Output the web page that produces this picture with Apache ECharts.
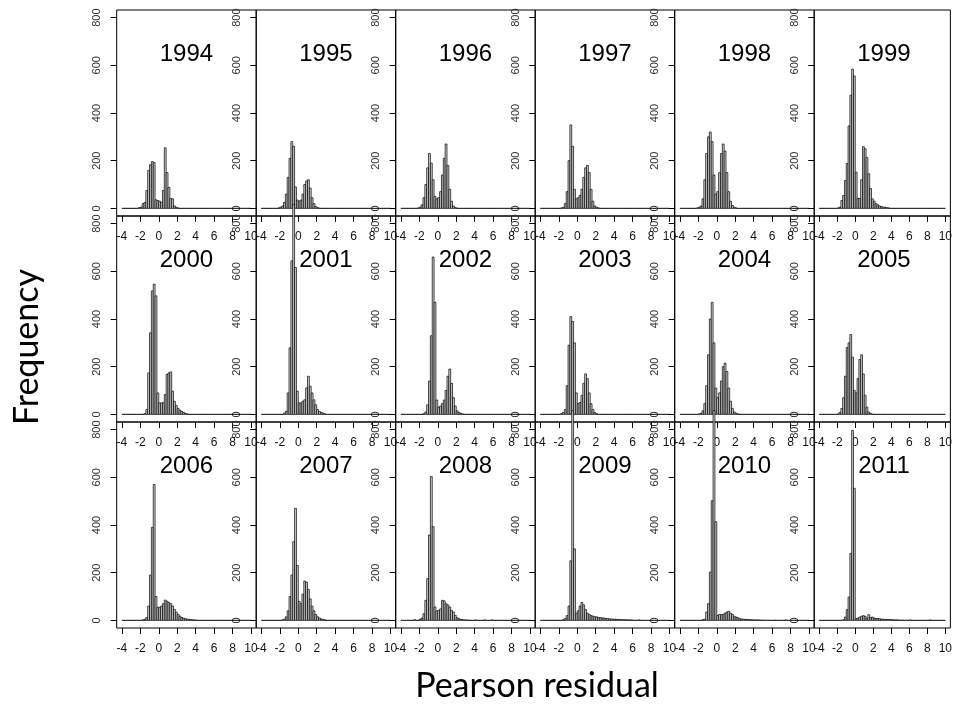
<!DOCTYPE html>
<html>
<head>
<meta charset="utf-8">
<script src="https://cdn.jsdelivr.net/npm/echarts@6/dist/echarts.min.js"></script>
<style>
  html, body { margin: 0; padding: 0; background: #fff; }
  #chart { width: 955px; height: 707px; }
</style>
</head>
<body>
<div id="chart"></div>
<script>
// histogram counts, bins of 0.2 starting at -2.6; bins not listed (out to 10) are empty
var binWidth = 0.2;
var firstBin = -2.6;
var xTicks = [-4, -2, 0, 2, 4, 6, 8, 10];
var yTicks = [0, 200, 400, 600, 800];
var years = ['1994', '1995', '1996', '1997', '1998', '1999',
             '2000', '2001', '2002', '2003', '2004', '2005',
             '2006', '2007', '2008', '2009', '2010', '2011'];

var h1994 = [0,0,3,5,20,25,75,159,183,196,192,36,33,30,25,75,254,150,88,42,40,10,4,2];
var h1995 = [0,0,2,5,10,25,60,130,210,280,260,90,35,30,35,60,100,115,120,85,45,20,8,3,1];
var h1996 = [0,0,2,5,15,45,100,170,230,190,120,50,40,45,70,140,210,270,180,80,30,10,3,1];
var h1997 = [0,0,0,0,2,5,20,70,200,350,260,80,40,45,55,80,130,170,180,150,80,30,10,5,2];
var h1998 = [0,0,2,5,10,40,120,230,300,320,280,140,60,70,150,230,270,240,150,70,30,12,5,2];
var h1999 = [0,0,0,2,5,33,54,117,188,346,474,584,555,152,42,42,120,259,250,213,145,83,40,30,20,15,10,8,5,5,3,2];
var h2000 = [0,0,0,0,0,3,21,174,342,518,546,497,90,48,48,50,83,168,174,178,97,55,37,25,18,12,8,4,2];
var h2001 = [0,0,0,0,0,5,13,90,279,644,880,616,97,48,48,55,61,111,160,118,90,61,40,20,12,8,5,2];
var h2002 = [0,0,0,0,0,3,10,40,140,330,660,470,60,30,35,45,60,100,160,190,130,70,35,15,8,4,2];
var h2003 = [0,0,0,0,3,8,20,120,290,410,390,300,90,45,50,80,130,170,150,90,45,20,8,3];
var h2004 = [0,0,0,2,5,15,45,120,250,400,470,300,110,70,90,140,200,215,180,110,55,25,10,5,2];
var h2005 = [0,0,0,2,8,25,70,160,280,300,335,240,100,90,150,230,250,170,80,30,10,4,1];
var h2006 = [0,0,0,0,2,5,12,60,190,390,570,100,55,55,60,70,85,80,75,70,60,45,35,25,18,12,9,7,5,4,3,2,2,1];
var h2007 = [0,0,0,0,2,5,15,40,100,190,330,470,230,80,70,110,165,160,130,90,60,40,25,15,10,6,4,2];
var h2008 = [3,0,0,5,10,28,84,175,358,603,393,56,40,42,48,84,82,70,65,56,42,35,21,11,7,4,3,2,2,1,1,0,0,2,0,0,0,0,2,0,0,0,2];
var h2009 = [0,0,0,0,0,3,8,20,60,250,880,300,30,40,60,75,65,45,30,25,20,18,15,15,12,12,10,10,8,8,6,6,5,5,4,4,3,3,3,2,2,2,2,0,1,0,2];
var h2010 = [0,0,0,0,0,3,5,35,70,203,502,880,414,21,25,24,25,30,35,38,30,25,17,14,11,7,6,5,4,4,3,3,2,2,2,2,1,1,1,0,1,0,0,0,1,0,0,0,0,0,2];
var h2011 = [0,0,0,0,0,0,3,14,45,98,281,797,554,8,10,14,17,20,17,10,24,12,14,10,8,8,7,5,5,4,4,4,3,3,2,2,2,1,1,1,0,1,0,2,0,0,0,0,0,0,0,0,0,0,2];

var counts = [h1994, h1995, h1996, h1997, h1998, h1999,
              h2000, h2001, h2002, h2003, h2004, h2005,
              h2006, h2007, h2008, h2009, h2010, h2011];

var chart = echarts.init(document.getElementById('chart'));

var panelLeft = 116.7, panelTop = 10, panelW = 139.5, panelH = 206;
var tickFont = 'Liberation Sans, Arial, sans-serif';

var grids = [], xAxes = [], yAxes = [], series = [], texts = [];

counts.forEach(function (h, i) {
    var row = Math.floor(i / 6), col = i % 6;
    var left = panelLeft + col * panelW;
    var top = panelTop + row * panelH;

    grids.push({
        left: left, top: top, width: panelW, height: panelH,
        show: true, borderColor: '#000', borderWidth: 1, backgroundColor: 'transparent'
    });
    xAxes.push({
        type: 'value', gridIndex: i, min: -4.56, max: 10.56,
        splitLine: { show: false },
        axisLine: { show: false, onZero: false },
        axisTick: { show: true, customValues: xTicks, length: 6, lineStyle: { color: '#000' } },
        axisLabel: { customValues: xTicks, fontSize: 12, margin: 15, color: '#111', fontFamily: tickFont }
    });
    yAxes.push({
        type: 'value', gridIndex: i, min: -32, max: 832,
        splitLine: { show: false },
        axisLine: { show: false, onZero: false },
        axisTick: { show: true, customValues: yTicks, length: 6, lineStyle: { color: '#000' } },
        axisLabel: { customValues: yTicks, fontSize: 11, margin: 14, rotate: 90, color: '#333', fontFamily: tickFont }
    });

    // every bin from -4 to 10, empty ones drawn flat
    var bins = [];
    for (var k = 0; k < 70; k++) {
        var x0 = -4 + k * binWidth;
        var idx = Math.round((x0 - firstBin) / binWidth);
        var c = (idx >= 0 && idx < h.length) ? h[idx] : 0;
        bins.push([x0, x0 + binWidth, c]);
    }
    series.push({
        type: 'custom', xAxisIndex: i, yAxisIndex: i, clip: false,
        encode: { x: [0, 1], y: 2 },
        data: bins,
        renderItem: function (params, api) {
            var p0 = api.coord([api.value(0), api.value(2)]);
            var p1 = api.coord([api.value(1), 0]);
            return {
                type: 'rect',
                shape: { x: p0[0], y: p0[1], width: p1[0] - p0[0], height: p1[1] - p0[1] },
                style: { fill: '#d0d0d0', stroke: '#000', lineWidth: 0.7 }
            };
        }
    });

    texts.push({
        type: 'text', x: left + panelW / 2, y: top + 44,
        style: { text: years[i], fill: '#000', font: '24px "Liberation Sans", Arial, sans-serif',
                 textAlign: 'center', textVerticalAlign: 'middle' }
    });
});

texts.push({
    type: 'text', x: 27, y: 347, rotation: Math.PI / 2,
    style: { text: 'Frequency', fill: '#000', font: '34px Lato, sans-serif',
             textAlign: 'center', textVerticalAlign: 'middle' }
});
texts.push({
    type: 'text', x: 537, y: 686,
    style: { text: 'Pearson residual', fill: '#000', font: '34px Lato, sans-serif',
             textAlign: 'center', textVerticalAlign: 'middle' }
});

chart.setOption({
    animation: false,
    grid: grids,
    xAxis: xAxes,
    yAxis: yAxes,
    series: series,
    graphic: texts
});
</script>
</body>
</html>
